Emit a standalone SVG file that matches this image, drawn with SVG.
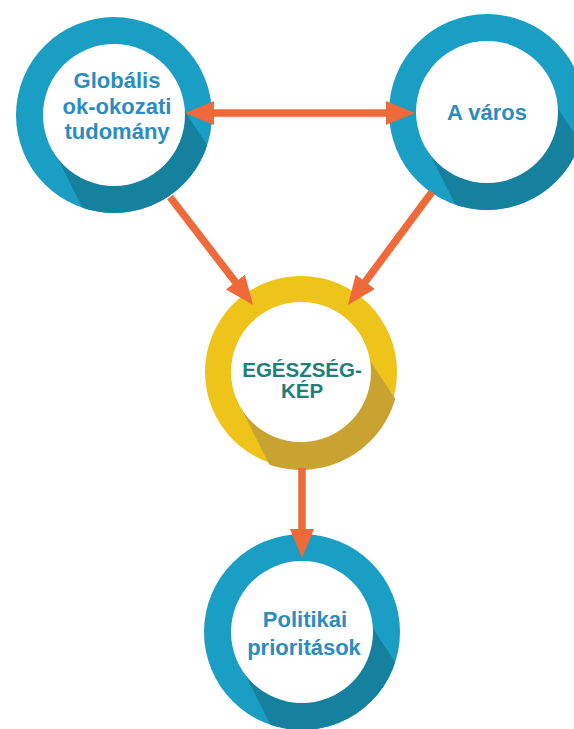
<svg xmlns="http://www.w3.org/2000/svg" width="574" height="729" viewBox="0 0 574 729">
  <style>
    .ring-blue { fill: #1B9EC4; }
    .shade-blue { fill: #16809F; }
    .ring-yellow { fill: #EEC41A; }
    .shade-yellow { fill: #C8A332; }
    .inner { fill: #FFFFFF; }
    .label { font-family: "Liberation Sans", Arial, sans-serif; font-weight: bold; text-anchor: middle; }
    .lbl-blue { fill: #2B8CC0; font-size: 22px; }
    .lbl-teal { fill: #1E7E7C; font-size: 20.5px; }
    .conn { stroke: #EE6A3B; stroke-width: 7.5; fill: none; }
  </style>
  <defs>
    <clipPath id="clipOuter">
      <circle cx="0" cy="0" r="98"/>
    </clipPath>
    <marker id="arrow" viewBox="0 0 29 24" refX="1" refY="12" markerWidth="29" markerHeight="24" markerUnits="userSpaceOnUse" orient="auto-start-reverse">
      <path d="M0,0 L29,12 L0,24 z" fill="#EE6A3B"/>
    </marker>
  </defs>
  <rect width="574" height="729" fill="#FFFFFF"/>

  <g id="node-globalis" transform="translate(114,115)">
    <circle r="98" class="ring-blue"/>
    <polygon class="shade-blue" points="62,-17 156,125 15,186 -61,34 0,0" clip-path="url(#clipOuter)"/>
    <circle r="71" class="inner"/>
    <text class="label lbl-blue" x="3" y="-27">Globális</text>
    <text class="label lbl-blue" x="3" y="-1">ok-okozati</text>
    <text class="label lbl-blue" x="3" y="24">tudomány</text>
  </g>

  <g id="node-varos" transform="translate(487,112)">
    <circle r="98" class="ring-blue"/>
    <polygon class="shade-blue" points="62,-17 156,125 15,186 -61,34 0,0" clip-path="url(#clipOuter)"/>
    <circle r="71" class="inner"/>
    <text class="label lbl-blue" x="0" y="8">A város</text>
  </g>

  <g id="node-egeszsegkep" transform="translate(301,372)">
    <circle r="96" class="ring-yellow"/>
    <polygon class="shade-yellow" points="62,-22 156,120 15,186 -61,34 0,0" clip-path="url(#clipOuter)"/>
    <circle r="70" class="inner"/>
    <text class="label lbl-teal" x="1" y="5">EGÉSZSÉG-</text>
    <text class="label lbl-teal" x="1" y="26">KÉP</text>
  </g>

  <g id="node-politikai" transform="translate(302,632)">
    <circle r="98" class="ring-blue"/>
    <polygon class="shade-blue" points="62,-17 156,125 15,186 -61,34 0,0" clip-path="url(#clipOuter)"/>
    <circle r="71" class="inner"/>
    <text class="label lbl-blue" x="3" y="-5">Politikai</text>
    <text class="label lbl-blue" x="2" y="23">prioritások</text>
  </g>

  <g id="connectors">
    <line class="conn" x1="213" y1="113" x2="387" y2="113" marker-start="url(#arrow)" marker-end="url(#arrow)"/>
    <line class="conn" x1="170" y1="197" x2="236" y2="282.8" marker-end="url(#arrow)"/>
    <line class="conn" x1="432" y1="192" x2="364.7" y2="282.5" marker-end="url(#arrow)"/>
    <line class="conn" x1="302" y1="468" x2="302" y2="530" stroke-width="8.5" marker-end="url(#arrow)"/>
  </g>
</svg>
